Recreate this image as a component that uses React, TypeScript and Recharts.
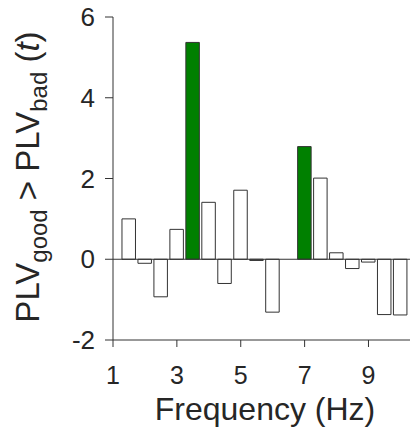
import React from 'react';
import { BarChart, Bar, XAxis, YAxis, Cell, ReferenceLine } from 'recharts';

const frequencies = [1.5, 2, 2.5, 3, 3.5, 4, 4.5, 5, 5.5, 6, 6.5, 7, 7.5, 8, 8.5, 9, 9.5, 10];
const tValues = [1.0, -0.1, -0.93, 0.74, 5.37, 1.41, -0.6, 1.71, -0.03, -1.31, 0, 2.79, 2.01, 0.16, -0.23, -0.07, -1.37, -1.38];
const significant = [false, false, false, false, true, false, false, false, false, false, false, true, false, false, false, false, false, false];
const xTicks = [1, 3, 5, 7, 9];
const yTicks = [-2, 0, 2, 4, 6];

const data = frequencies.map((f, i) => ({ f, v: tValues[i], sig: significant[i] }));

const TEXT = '#262626';
const FONT = '"Liberation Sans", Arial, sans-serif';

const YTitle = () => (
  <text
    transform="translate(39,177) rotate(-90)"
    textAnchor="middle"
    fontFamily={FONT}
    fontSize={33}
    fill={TEXT}
  >
    PLV
    <tspan fontSize={24} dy={8}>good</tspan>
    <tspan dy={-8}> &gt; PLV</tspan>
    <tspan fontSize={24} dy={8}>bad</tspan>
    <tspan dy={-8}> (</tspan>
    <tspan fontStyle="italic">t</tspan>
    <tspan>)</tspan>
  </text>
);

const XTitle = () => (
  <text x={265} y={420} textAnchor="middle" fontFamily={FONT} fontSize={32} fill={TEXT}>
    Frequency (Hz)
  </text>
);

export default function App() {
  return (
    <div style={{ position: 'absolute', left: 0, top: 0, background: '#fff' }}>
      <BarChart
        width={410}
        height={436}
        data={data}
        margin={{ top: 17, right: 0, bottom: 0, left: 0 }}
      >
        <XAxis
          dataKey="f"
          type="number"
          domain={[1, 10.3]}
          ticks={xTicks}
          allowDataOverflow
          height={96}
          stroke="#333"
          tickSize={7}
          tickMargin={19}
          tick={{ fill: TEXT, fontSize: 25, fontFamily: FONT }}
          label={{ content: () => <XTitle /> }}
        />
        <YAxis
          type="number"
          domain={[-2, 6]}
          ticks={yTicks}
          width={113}
          stroke="#333"
          tickSize={8}
          tickMargin={10}
          tick={{ fill: TEXT, fontSize: 26, fontFamily: FONT }}
          label={{ content: () => <YTitle /> }}
        />
        <ReferenceLine y={0} stroke="#333" strokeWidth={1} />
        <Bar dataKey="v" barSize={13.5} stroke="#333" strokeWidth={1} isAnimationActive={false}>
          {data.map((d, i) => (
            <Cell key={i} fill={d.sig ? '#008000' : '#ffffff'} />
          ))}
        </Bar>
      </BarChart>
    </div>
  );
}
